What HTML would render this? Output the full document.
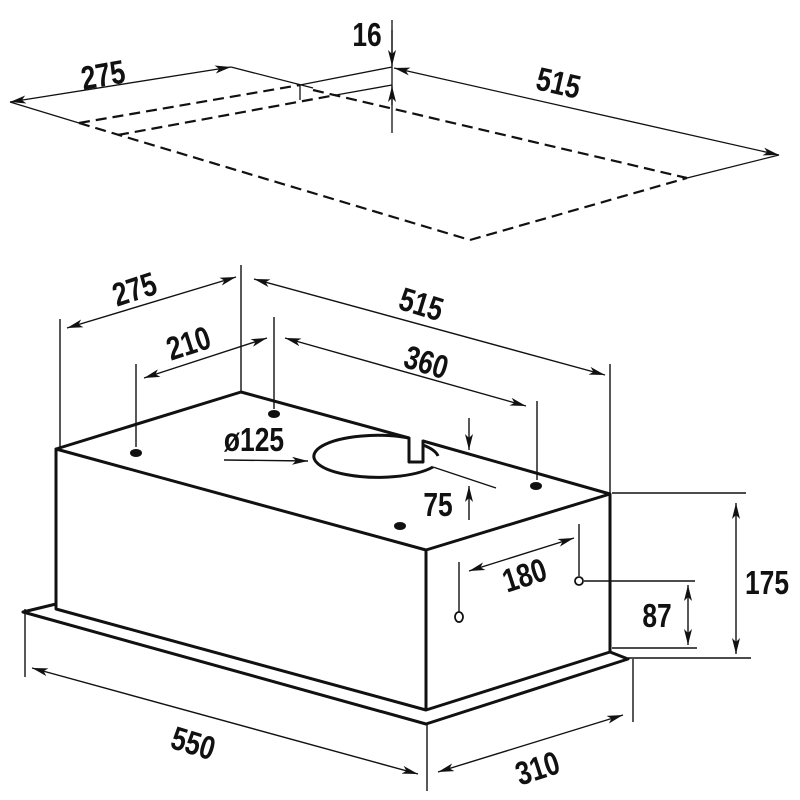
<!DOCTYPE html>
<html><head><style>
html,body{margin:0;padding:0;background:#fff}
svg{display:block}
text{font-family:"Liberation Sans Narrow","Liberation Sans",sans-serif;font-weight:bold;font-size:33px;fill:#111}
</style></head><body>
<svg width="800" height="800" viewBox="0 0 800 800" xmlns="http://www.w3.org/2000/svg">
<defs>
<marker id="a" viewBox="0 0 16 8" refX="16" refY="4" markerWidth="16" markerHeight="8" markerUnits="userSpaceOnUse" orient="auto-start-reverse">
<path d="M0,0 L16,4 L0,8 L4,4 Z" fill="#111"/></marker>
</defs>
<g stroke="#111" fill="none">
<g stroke-width="1.3">
<line x1="10" y1="102" x2="231" y2="67" marker-start="url(#a)" marker-end="url(#a)"/>
<line x1="231" y1="67" x2="313" y2="88"/>
<line x1="10" y1="102" x2="79" y2="123"/>
<line x1="300" y1="85" x2="392" y2="67"/>
<line x1="336" y1="95" x2="392" y2="85"/>
<line x1="300" y1="85" x2="300" y2="100"/>
<line x1="392" y1="20" x2="392" y2="133"/>
<line x1="392" y1="30" x2="392" y2="66" marker-end="url(#a)"/>
<line x1="392" y1="105" x2="392" y2="86" marker-end="url(#a)"/>
<line x1="394" y1="68" x2="779" y2="155" marker-start="url(#a)" marker-end="url(#a)"/>
<line x1="687" y1="178" x2="779" y2="155"/>
</g>
<g stroke-width="2.2" stroke-dasharray="11,6">
<line x1="79" y1="123" x2="300" y2="85"/>
<line x1="118" y1="135" x2="336" y2="95"/>
<line x1="79" y1="123" x2="470" y2="240"/>
<line x1="313" y1="90" x2="687" y2="178"/>
<line x1="470" y1="240" x2="687" y2="178"/>
</g>
<g stroke-width="3" stroke-linejoin="round">
<line x1="56" y1="449" x2="241" y2="392"/>
<polyline points="241,392 409,438 409,462 423,462 423,441 610,494"/>
<polygon points="56,449 426,550 610,494 610,652 426,710 56,609"/>
<line x1="426" y1="550" x2="426" y2="710"/>
<polyline points="56,604 23,612 426,724 628,659 610,652"/>
<path d="M409,438 A64,21 0 1 0 433,467"/>
<path d="M423,445 A64,21 0 0 1 438,456"/>
</g>
<g fill="#111" stroke="none">
<ellipse cx="136" cy="453" rx="6" ry="4"/>
<ellipse cx="274" cy="414" rx="6" ry="4"/>
<ellipse cx="536" cy="486" rx="6" ry="4"/>
<ellipse cx="400" cy="526" rx="6" ry="4"/>
</g>
<g stroke-width="1.8">
<circle cx="579" cy="581" r="4"/>
<ellipse cx="459" cy="617" rx="4" ry="5"/>
</g>
<g stroke-width="1.4">
<line x1="60" y1="319" x2="60" y2="449"/>
<line x1="241" y1="265" x2="241" y2="392"/>
<line x1="610" y1="364" x2="610" y2="494"/>
<line x1="136" y1="364" x2="136" y2="447"/>
<line x1="274" y1="317" x2="274" y2="409"/>
<line x1="537" y1="401" x2="537" y2="480"/>
<line x1="67" y1="328" x2="236" y2="277" marker-start="url(#a)" marker-end="url(#a)"/>
<line x1="254" y1="279" x2="605" y2="375" marker-start="url(#a)" marker-end="url(#a)"/>
<line x1="144" y1="378" x2="267" y2="338" marker-start="url(#a)" marker-end="url(#a)"/>
<line x1="285" y1="338" x2="526" y2="406" marker-start="url(#a)" marker-end="url(#a)"/>
<line x1="224" y1="460" x2="308" y2="461" marker-end="url(#a)"/>
<line x1="469" y1="418" x2="469" y2="450" marker-end="url(#a)"/>
<line x1="433" y1="467" x2="496" y2="488"/>
<line x1="469" y1="520" x2="469" y2="486" marker-end="url(#a)"/>
<line x1="469" y1="571" x2="574" y2="538" marker-start="url(#a)" marker-end="url(#a)"/>
<line x1="579" y1="524" x2="579" y2="576"/>
<line x1="459" y1="562" x2="459" y2="612"/>
<line x1="584" y1="581" x2="695" y2="581"/>
<line x1="612" y1="648" x2="697" y2="648"/>
<line x1="688" y1="585" x2="688" y2="645" marker-start="url(#a)" marker-end="url(#a)"/>
<line x1="612" y1="493" x2="746" y2="493"/>
<line x1="628" y1="658" x2="751" y2="658"/>
<line x1="736" y1="503" x2="736" y2="654" marker-start="url(#a)" marker-end="url(#a)"/>
<line x1="25" y1="609" x2="25" y2="677"/>
<line x1="32" y1="668" x2="418" y2="774" marker-start="url(#a)" marker-end="url(#a)"/>
<line x1="427" y1="724" x2="427" y2="791"/>
<line x1="633" y1="659" x2="633" y2="722"/>
<line x1="438" y1="772" x2="623" y2="715" marker-start="url(#a)" marker-end="url(#a)"/>
</g>
</g>
<text transform="translate(105 86) rotate(-10) scale(0.8 1)" text-anchor="middle">275</text>
<text transform="translate(367 46) scale(0.8 1)" text-anchor="middle">16</text>
<text transform="translate(556 94) rotate(13) scale(0.8 1)" text-anchor="middle">515</text>
<text transform="translate(138 300) rotate(-18) scale(0.8 1)" text-anchor="middle">275</text>
<text transform="translate(418 315) rotate(17) scale(0.8 1)" text-anchor="middle">515</text>
<text transform="translate(192 354) rotate(-18) scale(0.8 1)" text-anchor="middle">210</text>
<text transform="translate(423 373) rotate(17) scale(0.8 1)" text-anchor="middle">360</text>
<text transform="translate(254 451) scale(0.8 1)" text-anchor="middle">ø125</text>
<text transform="translate(438 516) scale(0.8 1)" text-anchor="middle">75</text>
<text transform="translate(528 586) rotate(-18) scale(0.8 1)" text-anchor="middle">180</text>
<text transform="translate(657 627) scale(0.8 1)" text-anchor="middle">87</text>
<text transform="translate(767 594) scale(0.8 1)" text-anchor="middle">175</text>
<text transform="translate(190 754) rotate(17) scale(0.8 1)" text-anchor="middle">550</text>
<text transform="translate(541 779) rotate(-18) scale(0.8 1)" text-anchor="middle">310</text>
</svg>
</body></html>
